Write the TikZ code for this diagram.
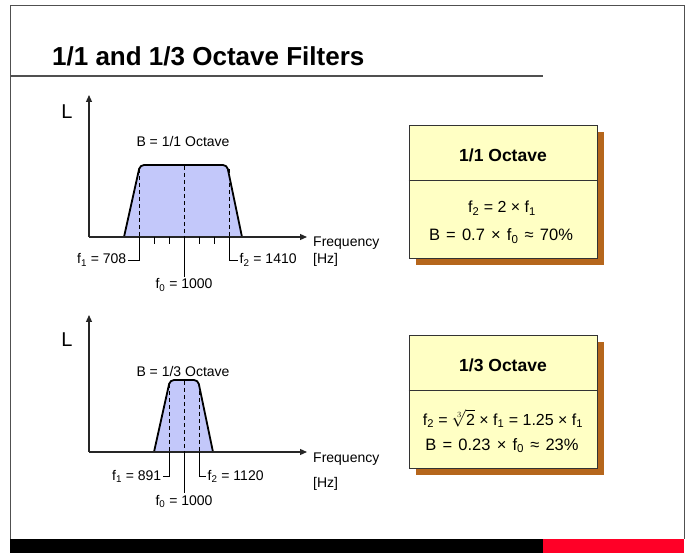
\documentclass[tikz,border=0pt]{standalone}
\usepackage{fontspec}
\setmainfont{Liberation Sans}
\newfontfamily\widefont[WordSpace=1.35]{Liberation Sans}
\usepackage{tikz}
\usetikzlibrary{arrows.meta,positioning,calc}
\definecolor{bandblue}{HTML}{C3C8FA}
\definecolor{boxyellow}{HTML}{FFFFC4}
\definecolor{boxshadow}{HTML}{B5661C}
\definecolor{barred}{HTML}{FF0027}
\definecolor{framegray}{HTML}{505050}
\newcommand{\fsz}[1]{\fontsize{#1}{#1}\selectfont}
\tikzset{
  axisarrow/.style={-{Triangle[length=7pt,width=6pt]}, line width=1.2pt, draw=black!85},
  bandfill/.style={fill=bandblue, draw=none},
  bandedge/.style={line width=1.8pt, rounded corners=4pt},
  centreline/.style={dash pattern=on 4pt off 3pt, line width=0.8pt},
  leader/.style={line width=0.8pt},
  tickmark/.style={line width=0.8pt},
  plotlabel/.style={font=\fsz{14}, inner sep=1.5pt},
  axisname/.style={font=\fsz{20}, inner sep=0pt},
  infobox/.style={draw=black!80, line width=0.8pt, fill=boxyellow,
    minimum width=188pt, minimum height=133pt, inner sep=0pt},
  shadowbox/.style={fill=boxshadow, minimum width=188pt, minimum height=133pt, inner sep=0pt},
  boxhead/.style={font=\bfseries\fsz{17.5}, inner sep=0pt},
  boxline/.style={font=\fsz{16}, inner sep=0pt},
  wideline/.style={font=\widefont\fsz{16.5}, inner sep=0pt},
  titletext/.style={font=\bfseries\fsz{26}, inner sep=0pt}
}

\begin{document}
\begin{tikzpicture}[x=1pt, y=-1pt]
    \useasboundingbox (0,0) rectangle (686,553);

    % slide frame, title and footer bar
    \draw[framegray, line width=1pt] (10,539) -- (10,6) -- (684,6) -- (684,539);
    \fill[black] (10,539) rectangle (543,553);
    \fill[barred] (543,539) rectangle (684,553);
    \node[titletext, anchor=base west] (title) at (52,66) {1/1 and 1/3 Octave Filters};
    \draw[framegray, line width=1.5pt] (10,76) -- (543,76);

    % upper plot: 1/1 octave band
    \coordinate (o1) at (89,237);
    \coordinate (xa1) at (307,237);
    \coordinate (ya1) at (89,95);
    \path[bandfill] (124,237) [rounded corners=4pt] -- (140,165) -- (227,165) [sharp corners] -- (242,237) -- cycle;
    \draw[bandedge] (124,237) -- (140,165) -- (227,165) -- (242,237);
    \draw[axisarrow] (o1) -- (xa1);
    \draw[axisarrow] (o1) -- (ya1);
    \foreach \t in {154,169,199,214}
        \draw[tickmark] (\t,237) -- (\t,244);
    \draw[centreline] (139,169) -- (139,237);
    \draw[centreline] (184,166) -- (184,237);
    \draw[centreline] (229,169) -- (229,237);
    \coordinate (f1a) at (139,237);
    \coordinate (f0a) at (184,237);
    \coordinate (f2a) at (229,237);

    \node[axisname, anchor=base] (la) at (67,119) {L};
    \node[plotlabel, anchor=base] (ba) at (183,147) {B = 1/1 Octave};
    \node[plotlabel, anchor=base west, inner sep=0pt] (fqa) at (313,247) {Frequency};
    \node[plotlabel, anchor=base west, inner sep=0pt] (hza) at (313,264) {[Hz]};
    \node[plotlabel, anchor=base east] (f1la) at (128,264) {f\textsubscript{1} = 708};
    \node[plotlabel, anchor=base west] (f2la) at (238,264) {f\textsubscript{2} = 1410};
    \node[plotlabel, anchor=base] (f0la) at (184,289) {f\textsubscript{0} = 1000};
    \draw[leader] (f1a) |- (f1la.east);
    \draw[leader] (f2a) |- (f2la.west);
    \draw[leader] (f0a) -- (f0la.north);

    % lower plot: 1/3 octave band
    \coordinate (o2) at (89,452);
    \coordinate (xa2) at (307,452);
    \coordinate (ya2) at (89,315);
    \path[bandfill] (154,452) [rounded corners=4pt] -- (170,380) -- (198,380) [sharp corners] -- (213,452) -- cycle;
    \draw[bandedge] (154,452) -- (170,380) -- (198,380) -- (213,452);
    \draw[axisarrow] (o2) -- (xa2);
    \draw[axisarrow] (o2) -- (ya2);
    \draw[centreline] (169,384) -- (169,452);
    \draw[centreline] (184,381) -- (184,452);
    \draw[centreline] (199,384) -- (199,452);
    \coordinate (f1b) at (169,452);
    \coordinate (f0b) at (184,452);
    \coordinate (f2b) at (199,452);

    \node[axisname, anchor=base] (lb) at (67,347) {L};
    \node[plotlabel, anchor=base] (bb) at (183,377) {B = 1/3 Octave};
    \node[plotlabel, anchor=base west, inner sep=0pt] (fqb) at (313,463) {Frequency};
    \node[plotlabel, anchor=base west, inner sep=0pt] (hzb) at (313,487) {[Hz]};
    \node[plotlabel, anchor=base east] (f1lb) at (163,480) {f\textsubscript{1} = 891};
    \node[plotlabel, anchor=base west] (f2lb) at (206,480) {f\textsubscript{2} = 1120};
    \node[plotlabel, anchor=base] (f0lb) at (184,505) {f\textsubscript{0} = 1000};
    \draw[leader] (f1b) |- (f1lb.east);
    \draw[leader] (f2b) |- (f2lb.west);
    \draw[leader] (f0b) -- (f0lb.north);

    % summary boxes
    \node[shadowbox] (sha) at (510,198.5) {};
    \node[infobox] (boxa) at (503,191.5) {};
    \draw[line width=0.8pt, draw=black!80] ([yshift=-56pt]boxa.north west) -- ([yshift=-56pt]boxa.north east);
    \node[boxhead, anchor=base] (hda) at (503,162) {1/1 Octave};
    \node[boxline, anchor=base] (eqa1) at (502,213) {f\textsubscript{2} = 2 × f\textsubscript{1}};
    \node[wideline, anchor=base] (eqa2) at (501,241) {B = 0.7 × f\textsubscript{0} ≈ 70\%};

    \node[shadowbox] (shb) at (510,408.5) {};
    \node[infobox] (boxb) at (503,401.5) {};
    \draw[line width=0.8pt, draw=black!80] ([yshift=-56pt]boxb.north west) -- ([yshift=-56pt]boxb.north east);
    \node[boxhead, anchor=base] (hdb) at (503,372) {1/3 Octave};
    \node[boxline, anchor=base] (eqb1) at (503,425) {f\textsubscript{2} = $\sqrt[3]{\mbox{2}}$ × f\textsubscript{1} = 1.25 × f\textsubscript{1}};
    \node[wideline, anchor=base] (eqb2) at (502,450) {B = 0.23 × f\textsubscript{0} ≈ 23\%};
\end{tikzpicture}
\end{document}
